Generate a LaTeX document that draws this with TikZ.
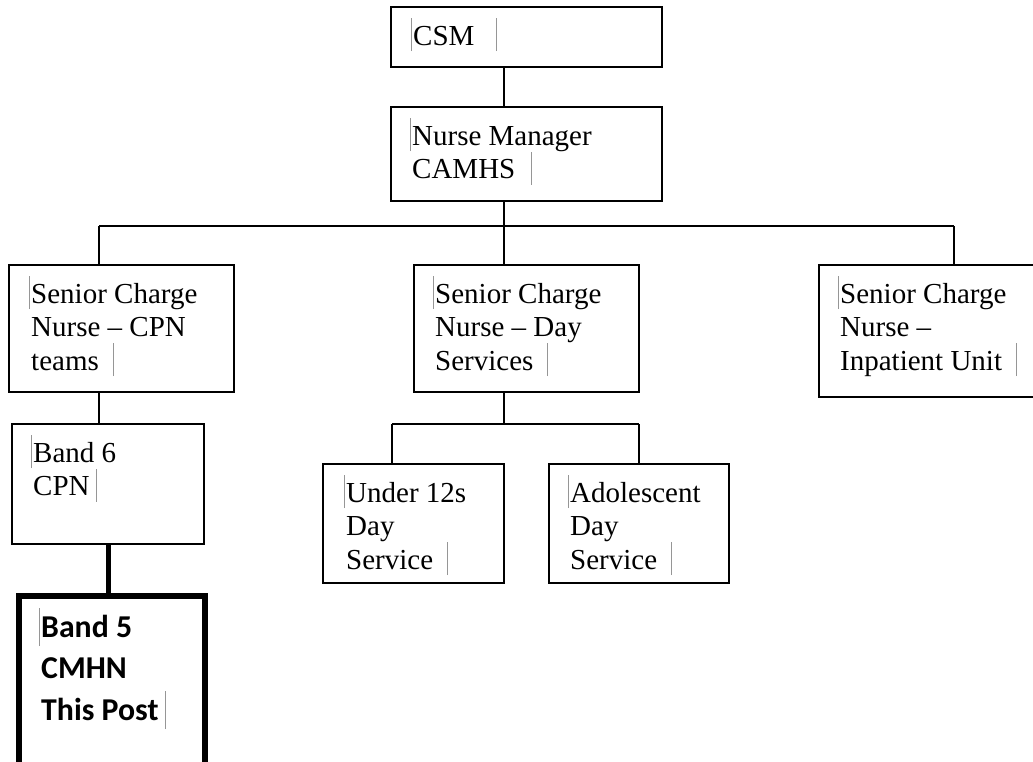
\documentclass[tikz,border=0pt]{standalone}
\usepackage{fontspec}
\setmainfont{Liberation Serif}
\newfontfamily\calibri{Carlito}
\usepackage{tikz}
\definecolor{mkgray}{RGB}{150,150,150}
\newcommand{\mkl}{\llap{\textcolor{mkgray}{\rule[-6pt]{0.8pt}{33pt}}\hspace{1pt}}}
\newcommand{\mkr}[1]{\hspace{#1}\textcolor{mkgray}{\rule[-6pt]{0.8pt}{33pt}}}
\newcommand{\mkbl}{\llap{\textcolor{mkgray}{\rule[-9pt]{0.8pt}{38pt}}\hspace{1pt}}}
\newcommand{\mkbr}[1]{\hspace{#1}\textcolor{mkgray}{\rule[-9pt]{0.8pt}{38pt}}}

\begin{document}
\begin{tikzpicture}[x=1pt, y=-1pt]
        \tikzstyle{box} = [draw, rectangle, line width=1.8pt, inner sep=0pt]
        \tikzstyle{thickbox} = [box, line width=6pt]
        \tikzstyle{txt} = [anchor=north west, inner sep=0pt, align=left, font=\fontsize{29}{33.5}\selectfont]
        \tikzstyle{boldtxt} = [txt, font=\calibri\bfseries\fontsize{31.8}{41.5}\selectfont]
        \useasboundingbox (0,0) rectangle (1033,762);
        \clip (0,0) rectangle (1033,762);
        % boxes
        \node[box, minimum width=271pt, minimum height=60pt] (csm) at (526.5,37) {};
        \node[box, minimum width=271pt, minimum height=94pt] (nm) at (526.5,154) {};
        \node[box, minimum width=225pt, minimum height=127pt] (scn1) at (121.5,328.5) {};
        \node[box, minimum width=225pt, minimum height=127pt] (scn2) at (526.5,328.5) {};
        \node[box, minimum width=250pt, minimum height=132pt] (scn3) at (944,331) {};
        \node[box, minimum width=192pt, minimum height=120pt] (b6) at (108,484) {};
        \node[box, minimum width=181pt, minimum height=119pt] (u12) at (413.5,523.5) {};
        \node[box, minimum width=180pt, minimum height=119pt] (ado) at (639,523.5) {};
        \node[thickbox, minimum width=186pt, minimum height=209pt] (b5) at (111.5,700) {};
        % texts
        \node[txt] (csm-t) at (413,18) {\mkl CSM\mkr{22pt}};
        \node[txt] (nm-t) at (412,118) {\mkl Nurse Manager\\CAMHS\mkr{16pt}};
        \node[txt] (scn1-t) at (31,276) {\mkl Senior Charge\\Nurse – CPN\\teams\mkr{14pt}};
        \node[txt] (scn2-t) at (435,276) {\mkl Senior Charge\\Nurse – Day\\Services\mkr{14pt}};
        \node[txt] (scn3-t) at (840,276) {\mkl Senior Charge\\Nurse –\\Inpatient Unit\mkr{14pt}};
        \node[txt] (b6-t) at (33,435) {\mkl Band 6\\CPN\mkr{6pt}};
        \node[txt] (u12-t) at (346,475) {\mkl Under 12s\\Day\\Service\mkr{14pt}};
        \node[txt] (ado-t) at (570,475) {\mkl Adolescent\\Day\\Service\mkr{14pt}};
        \node[boldtxt] (b5-t) at (41,608) {\mkbl Band 5\\CMHN\\This Post\mkbr{6pt}};
        % junctions
        \coordinate (d1) at (99,226);
        \coordinate (d2) at (504,226);
        \coordinate (d3) at (954,226);
        \coordinate (e0) at (504,424);
        \coordinate (e1) at (392,424);
        \coordinate (e2) at (639,424);
        \coordinate (f) at (108,570);
        % connectors
        \draw[line width=1.8pt] (csm.south -| d2) -- (nm.north -| d2);
        \draw[line width=1.8pt] (nm.south -| d2) -- (d2);
        \draw[line width=1.8pt] (d1) -- (d3);
        \foreach \from/\to in {d1/scn1, d2/scn2, d3/scn3}
            \draw[line width=1.8pt] (\from) -- (\from |- \to.north);
        \draw[line width=1.8pt] (scn2.south -| e0) -- (e0);
        \draw[line width=1.8pt] (e1) -- (e2);
        \foreach \from/\to in {e1/u12, e2/ado}
            \draw[line width=1.8pt] (\from) -- (\from |- \to.north);
        \draw[line width=1.8pt] (scn1.south -| d1) -- (b6.north -| d1);
        \draw[line width=5pt] (b6.south -| f) -- (b5.north -| f);
    \end{tikzpicture}
\end{document}
